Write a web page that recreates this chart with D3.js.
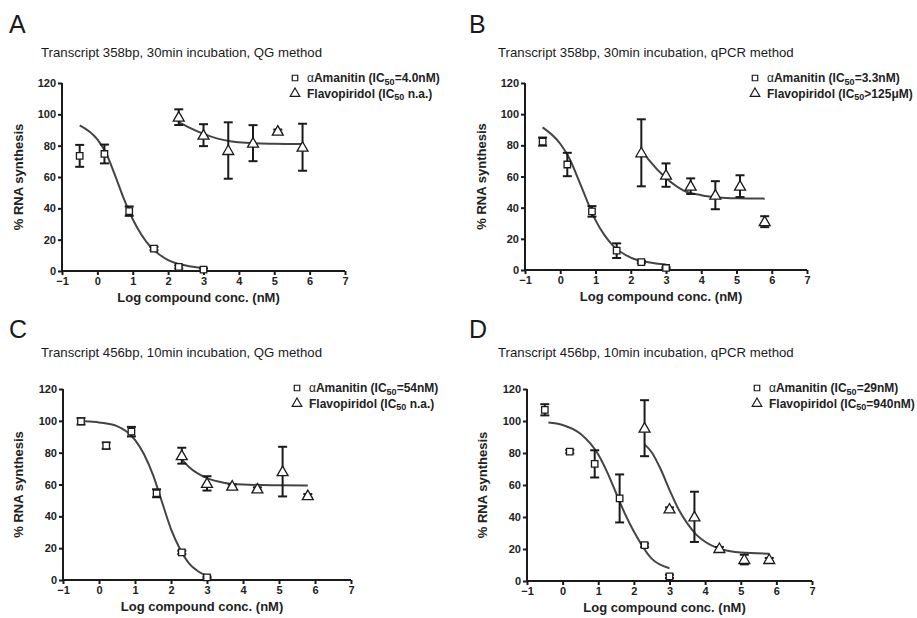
<!DOCTYPE html>
<html><head><meta charset="utf-8">
<script src="https://cdn.jsdelivr.net/npm/d3@7/dist/d3.min.js"></script>
<style>
body{margin:0;background:#fff;}
svg{display:block;font-family:"Liberation Sans",Arial,Helvetica,sans-serif;}
</style></head>
<body>
<svg id="chart" width="917" height="618"></svg>
<script>
// ---------- DATA ----------
const xTicks = [-1, 0, 1, 2, 3, 4, 5, 6, 7];
const yTicks = [0, 20, 40, 60, 80, 100, 120];
const amaDoses = [-0.5, 0.2, 0.9, 1.6, 2.3, 3.0];
const flaDoses = [2.3, 3.0, 3.7, 4.4, 5.1, 5.8];

const panelLetters = ["A", "B", "C", "D"];
const panelTitles = [
  "Transcript 358bp, 30min incubation, QG method",
  "Transcript 358bp, 30min incubation, qPCR method",
  "Transcript 456bp, 10min incubation, QG method",
  "Transcript 456bp, 10min incubation, qPCR method"
];
const amaLegend = ["=4.0nM", "=3.3nM", "=54nM", "=29nM"];
const flaLegend = [" n.a.", ">125\u03bcM", " n.a.", "=940nM"];

// Panel A
const amaA = [73.5, 74.7, 38.2, 14.3, 2.6, 0.9];
const amaAErr = [7, 6, 3, 1, 1, 0.8];
const flaA = [98.2, 86.7, 76.9, 81.6, 89.3, 79];
const flaAErr = [5, 7, 18, 11.5, 1, 15];
const amaFitAX = [-0.5, 0, 0.25, 0.5, 0.75, 1, 1.25, 1.5, 1.75, 2, 2.5, 3];
const amaFitAY = [93, 84, 75, 61, 46, 33, 23, 15.5, 10.5, 7, 3.5, 1.8];
const flaFitAX = [2.3, 2.6, 3, 3.4, 3.8, 4.2, 5, 5.8];
const flaFitAY = [95, 91.5, 87.5, 84.5, 82.7, 81.8, 81.2, 81];

// Panel B
const amaB = [82.4, 67.7, 37.6, 12.4, 5.1, 1.3];
const amaBErr = [2.6, 7.5, 3.4, 4.7, 0.8, 0.5];
const flaB = [75.2, 60.9, 53.8, 48, 53.8, 31];
const flaBErr = [21.5, 7.5, 5, 9, 7, 3.5];
const amaFitBX = [-0.5, 0, 0.25, 0.5, 0.75, 1, 1.25, 1.5, 2, 2.5, 3];
const amaFitBY = [91.5, 81, 72, 59, 45, 32, 22.5, 15.5, 8, 5, 3.5];
const flaFitBX = [2.3, 2.5, 3, 3.5, 4, 4.5, 5, 5.8];
const flaFitBY = [77, 71, 59, 51, 48, 46.5, 46, 45.8];

// Panel C
const amaC = [99.7, 84.4, 93.2, 54.5, 17.4, 1.7];
const amaCErr = [2, 2, 3, 2.5, 1, 0.5];
const flaC = [78.1, 60.7, 59, 57.2, 68.1, 53];
const flaCErr = [5, 4.5, 1, 1, 15.6, 1];
const amaFitCX = [-0.4, 0, 0.5, 1, 1.25, 1.5, 1.75, 2, 2.25, 2.5, 2.75, 3];
const amaFitCY = [99.7, 99, 96.7, 88, 79, 66, 49, 32, 19.5, 10.5, 5.5, 2.5];
const flaFitCX = [2.3, 2.5, 3, 3.5, 4, 5, 5.8];
const flaFitCY = [75.8, 71, 64, 61, 60, 59.5, 59.3];

// Panel D
const amaD = [107, 80.9, 73.2, 51.6, 22.4, 2.9];
const amaDErr = [3.5, 1, 8.5, 15, 1, 1];
const flaD = [95.5, 45, 40.1, 20.3, 13.4, 13.4];
const flaDErr = [17.5, 1, 15.7, 1, 3, 1];
const amaFitDX = [-0.4, 0, 0.5, 1, 1.25, 1.5, 1.75, 2, 2.5, 3];
const amaFitDY = [99, 97.5, 92, 79, 68, 55, 42, 31, 14, 8];
const flaFitDX = [2.3, 2.5, 2.75, 3, 3.25, 3.5, 3.75, 4, 4.5, 5, 5.8];
const flaFitDY = [85.4, 80.5, 70, 57, 45, 36, 29, 24.5, 19.5, 17.8, 17.1];

// ---------- LAYOUT ----------
const layouts = [
  {left: 62, right: 345, top: 83, bottom: 271, lx: 9, ly: 33, tx: 41, ty: 57, yl: 18, xlY: 302, legX: 295, legY: 78},
  {left: 525, right: 807, top: 83, bottom: 270, lx: 469, ly: 33, tx: 498, ty: 57, yl: 481, xlY: 301, legX: 755, legY: 78},
  {left: 63, right: 351, top: 389, bottom: 580, lx: 9, ly: 338, tx: 41, ty: 357, yl: 18, xlY: 611, legX: 297, legY: 388},
  {left: 527, right: 812, top: 389, bottom: 581, lx: 469, ly: 338, tx: 498, ty: 357, yl: 482, xlY: 612, legX: 757, legY: 388}
];

const panels = [
  {ama: amaA, amaErr: amaAErr, fla: flaA, flaErr: flaAErr, afx: amaFitAX, afy: amaFitAY, ffx: flaFitAX, ffy: flaFitAY},
  {ama: amaB, amaErr: amaBErr, fla: flaB, flaErr: flaBErr, afx: amaFitBX, afy: amaFitBY, ffx: flaFitBX, ffy: flaFitBY},
  {ama: amaC, amaErr: amaCErr, fla: flaC, flaErr: flaCErr, afx: amaFitCX, afy: amaFitCY, ffx: flaFitCX, ffy: flaFitCY},
  {ama: amaD, amaErr: amaDErr, fla: flaD, flaErr: flaDErr, afx: amaFitDX, afy: amaFitDY, ffx: flaFitDX, ffy: flaFitDY}
];

const svg = d3.select("#chart");
const ink = "#1a1a1a";
const curveCol = "#444";
const sqSym = d3.symbol().type(d3.symbolSquare).size(42);
const triSym = d3.symbol().type(d3.symbolTriangle).size(52);

panels.forEach((p, i) => {
  const L = layouts[i];
  const x = d3.scaleLinear().domain([-1, 7]).range([L.left, L.right]);
  const y = d3.scaleLinear().domain([0, 120]).range([L.bottom, L.top]);
  const g = svg.append("g");

  // letter + title
  g.append("text").attr("x", L.lx).attr("y", L.ly).attr("font-size", 25).attr("fill", ink).text(panelLetters[i]);
  g.append("text").attr("x", L.tx).attr("y", L.ty).attr("font-size", 13.2).attr("fill", ink).text(panelTitles[i]);

  // axes
  const xAxis = g.append("g").attr("transform", `translate(0,${L.bottom})`)
    .call(d3.axisBottom(x).tickValues(xTicks).tickSize(4).tickPadding(2).tickFormat(d3.format("d")));
  const yAxis = g.append("g").attr("transform", `translate(${L.left},0)`)
    .call(d3.axisLeft(y).tickValues(yTicks).tickSize(4).tickPadding(2));
  [xAxis, yAxis].forEach(a => {
    a.select(".domain").attr("stroke", ink).attr("stroke-width", 2);
    a.selectAll(".tick line").attr("stroke", ink).attr("stroke-width", 2);
    a.selectAll(".tick text").attr("fill", "#222").attr("font-size", 11).attr("font-weight", "bold")
      .attr("font-family", '"Liberation Sans",Arial,sans-serif');
  });
  xAxis.select(".domain").attr("d", `M${L.left},0H${L.right}`);
  yAxis.select(".domain").attr("d", `M0,${L.bottom}V${L.top}`);

  // axis labels
  g.append("text").attr("transform", `translate(${L.yl},${(L.top + L.bottom) / 2}) rotate(-90)`)
    .attr("text-anchor", "middle").attr("dominant-baseline", "central")
    .attr("font-size", 13).attr("font-weight", "bold").attr("fill", "#222").text("% RNA synthesis");
  g.append("text").attr("x", (L.left + L.right) / 2 - 5).attr("y", L.xlY)
    .attr("text-anchor", "middle").attr("font-size", 13).attr("font-weight", "bold").attr("fill", "#222")
    .text("Log compound conc. (nM)");

  // fitted curves
  const line = d3.line().x(d => x(d[0])).y(d => y(d[1])).curve(d3.curveMonotoneX);
  g.append("path").datum(d3.zip(p.afx, p.afy)).attr("d", line)
    .attr("fill", "none").attr("stroke", curveCol).attr("stroke-width", 2);
  g.append("path").datum(d3.zip(p.ffx, p.ffy)).attr("d", line)
    .attr("fill", "none").attr("stroke", curveCol).attr("stroke-width", 2);

  // series: error bars + markers
  const series = [
    {xs: amaDoses, ys: p.ama, es: p.amaErr, sym: sqSym, dy: 0},
    {xs: flaDoses, ys: p.fla, es: p.flaErr, sym: triSym, dy: 0.8}
  ];
  series.forEach(s => {
    const pts = d3.zip(s.xs, s.ys, s.es);
    const eb = g.append("g").attr("stroke", ink).attr("stroke-width", 2);
    pts.forEach(d => {
      const cx = x(d[0]);
      eb.append("line").attr("x1", cx).attr("x2", cx).attr("y1", y(d[1] - d[2])).attr("y2", y(d[1] + d[2]));
      eb.append("line").attr("x1", cx - 4.5).attr("x2", cx + 4.5).attr("y1", y(d[1] + d[2])).attr("y2", y(d[1] + d[2]));
      eb.append("line").attr("x1", cx - 4.5).attr("x2", cx + 4.5).attr("y1", y(d[1] - d[2])).attr("y2", y(d[1] - d[2]));
    });
    g.append("g").selectAll("path").data(pts).join("path")
      .attr("d", s.sym)
      .attr("transform", d => `translate(${x(d[0])},${y(d[1]) + s.dy})`)
      .attr("fill", "#fff").attr("stroke", ink).attr("stroke-width", 1.3);
  });

  // legend
  const lg = g.append("g").attr("font-size", 12).attr("font-weight", "bold").attr("fill", "#222");
  lg.append("path").attr("d", d3.symbol().type(d3.symbolSquare).size(30))
    .attr("transform", `translate(${L.legX},${L.legY})`).attr("fill", "#fff").attr("stroke", ink).attr("stroke-width", 1.2);
  lg.append("path").attr("d", d3.symbol().type(d3.symbolTriangle).size(40))
    .attr("transform", `translate(${L.legX},${L.legY + 15.5})`).attr("fill", "#fff").attr("stroke", ink).attr("stroke-width", 1.2);
  const t1 = lg.append("text").attr("x", L.legX + 12).attr("y", L.legY + 4);
  t1.append("tspan").attr("font-weight", "normal").text("\u03b1");
  t1.append("tspan").text("Amanitin" + (i === 0 ? "  " : " ") + "(IC");
  t1.append("tspan").attr("font-size", 9).attr("dy", 2.5).text("50");
  t1.append("tspan").attr("dy", -2.5).text(amaLegend[i] + ")");
  const t2 = lg.append("text").attr("x", L.legX + 12).attr("y", L.legY + 19.5);
  t2.append("tspan").text("Flavopiridol" + (i === 0 || i === 2 ? "  " : " ") + "(IC");
  t2.append("tspan").attr("font-size", 9).attr("dy", 2.5).text("50");
  t2.append("tspan").attr("dy", -2.5).text(flaLegend[i] + ")");
});
</script>
</body></html>
